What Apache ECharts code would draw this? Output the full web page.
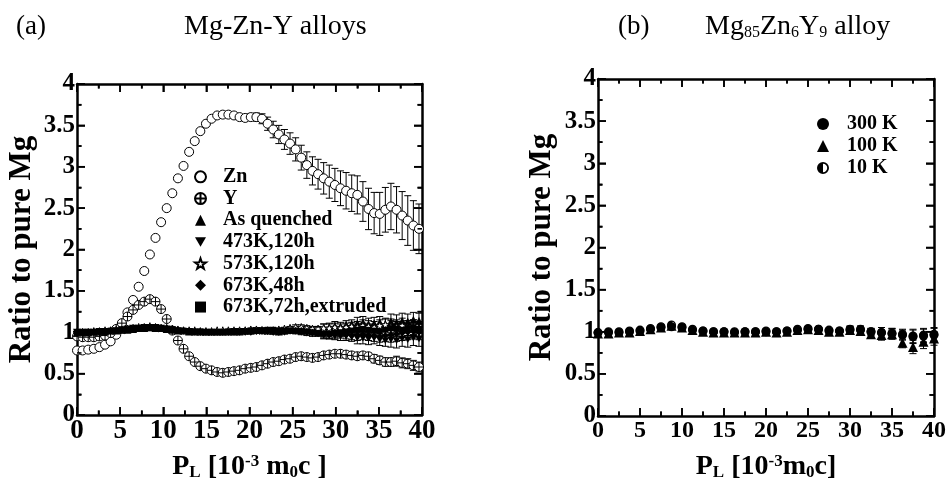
<!DOCTYPE html>
<html>
<head>
<meta charset="utf-8">
<script src="https://cdn.jsdelivr.net/npm/echarts@6/dist/echarts.min.js"></script>
<style>html,body{margin:0;padding:0;background:#fff}#c{width:949px;height:486px;background:#fff}</style>
</head>
<body>
<div id="c"></div>
<script>
// ---------- DATA ----------
// Panel (a): momentum grid, 10^-3 m0c
const xA = [0,0.65,1.3,1.95,2.6,3.25,3.9,4.55,5.2,5.85,6.5,7.15,7.8,8.45,9.1,9.75,10.4,11.05,11.7,12.35,13,13.65,14.3,14.95,15.6,16.25,16.9,17.55,18.2,18.85,19.5,20.15,20.8,21.45,22.1,22.75,23.4,24.05,24.7,25.35,26,26.65,27.3,27.95,28.6,29.25,29.9,30.55,31.2,31.85,32.5,33.15,33.8,34.45,35.1,35.75,36.4,37.05,37.7,38.35,39,39.65];
const zn = [0.78,0.78,0.79,0.80,0.82,0.85,0.89,0.97,1.10,1.24,1.39,1.55,1.74,1.94,2.14,2.33,2.50,2.68,2.86,3.01,3.18,3.31,3.43,3.52,3.58,3.62,3.63,3.63,3.62,3.60,3.59,3.60,3.60,3.58,3.52,3.45,3.39,3.33,3.28,3.21,3.11,3.02,2.95,2.91,2.86,2.82,2.78,2.74,2.71,2.68,2.66,2.58,2.49,2.44,2.43,2.48,2.52,2.48,2.41,2.35,2.29,2.25];
const znErr = [0.01,0.01,0.01,0.01,0.01,0.01,0.01,0.01,0.01,0.01,0.01,0.01,0.01,0.01,0.01,0.01,0.01,0.01,0.01,0.01,0.01,0.01,0.01,0.01,0.02,0.02,0.02,0.02,0.02,0.02,0.03,0.04,0.05,0.06,0.08,0.10,0.11,0.12,0.13,0.14,0.15,0.16,0.17,0.18,0.19,0.20,0.20,0.21,0.22,0.22,0.23,0.24,0.25,0.25,0.26,0.27,0.28,0.28,0.29,0.30,0.30,0.30];
const yEl = [0.95,0.94,0.94,0.94,0.95,0.96,0.99,1.04,1.11,1.19,1.27,1.33,1.37,1.40,1.37,1.28,1.16,1.02,0.90,0.80,0.71,0.64,0.59,0.56,0.54,0.52,0.51,0.52,0.53,0.54,0.56,0.57,0.58,0.60,0.62,0.64,0.65,0.67,0.68,0.70,0.71,0.70,0.69,0.70,0.72,0.73,0.74,0.74,0.73,0.72,0.71,0.72,0.71,0.68,0.66,0.64,0.64,0.65,0.63,0.62,0.60,0.58];
const yErr = [0.01,0.01,0.01,0.01,0.01,0.01,0.01,0.01,0.01,0.01,0.01,0.01,0.01,0.01,0.01,0.01,0.01,0.01,0.01,0.01,0.01,0.01,0.01,0.01,0.01,0.01,0.01,0.01,0.01,0.01,0.01,0.02,0.02,0.02,0.02,0.02,0.02,0.02,0.02,0.02,0.03,0.03,0.03,0.03,0.03,0.03,0.03,0.04,0.04,0.04,0.04,0.04,0.04,0.05,0.05,0.05,0.05,0.06,0.06,0.06,0.06,0.06];
const asQ = [1.00,1.00,1.00,1.01,1.01,1.01,1.02,1.02,1.03,1.03,1.04,1.05,1.05,1.06,1.05,1.05,1.04,1.03,1.02,1.02,1.01,1.01,1.01,1.01,1.01,1.01,1.01,1.01,1.01,1.01,1.02,1.02,1.03,1.03,1.02,1.02,1.01,1.02,1.03,1.04,1.04,1.03,1.02,1.04,1.05,1.06,1.08,1.07,1.09,1.10,1.11,1.12,1.10,1.11,1.12,1.10,1.13,1.12,1.14,1.13,1.15,1.14];
const t473 = [1.00,1.00,1.00,1.00,1.01,1.01,1.01,1.02,1.03,1.04,1.05,1.05,1.06,1.06,1.06,1.05,1.04,1.03,1.02,1.01,1.01,1.00,1.00,1.00,1.00,1.00,1.00,1.00,1.01,1.01,1.01,1.01,1.02,1.02,1.01,1.01,1.00,1.00,1.01,1.01,1.00,0.99,0.98,0.98,0.97,0.97,0.96,0.95,0.95,0.94,0.93,0.93,0.92,0.93,0.91,0.90,0.91,0.90,0.92,0.91,0.93,0.92];
const s573 = [1.00,1.00,1.00,1.01,1.01,1.02,1.02,1.03,1.03,1.04,1.05,1.06,1.06,1.07,1.06,1.05,1.05,1.04,1.03,1.02,1.02,1.02,1.01,1.01,1.01,1.02,1.02,1.02,1.02,1.02,1.02,1.03,1.03,1.02,1.02,1.02,1.03,1.04,1.05,1.06,1.06,1.05,1.04,1.04,1.05,1.05,1.06,1.05,1.06,1.07,1.06,1.08,1.07,1.06,1.08,1.09,1.07,1.06,1.08,1.05,1.06,1.04];
const d673 = [0.99,0.99,1.00,1.00,1.00,1.01,1.01,1.02,1.02,1.03,1.04,1.05,1.06,1.06,1.06,1.05,1.05,1.04,1.03,1.02,1.01,1.01,1.00,1.00,1.00,1.00,1.00,1.00,1.00,1.00,1.00,1.00,1.01,1.01,1.01,1.00,1.00,1.01,1.02,1.02,1.02,1.01,1.00,0.99,0.98,0.97,0.97,0.98,0.97,0.96,0.97,0.98,0.97,0.96,0.95,0.96,0.97,0.98,0.99,1.00,1.01,1.00];
const e673 = [1.00,1.00,1.00,1.00,1.01,1.01,1.02,1.02,1.03,1.03,1.04,1.04,1.05,1.05,1.05,1.04,1.04,1.03,1.02,1.02,1.01,1.01,1.01,1.00,1.00,1.00,1.00,1.01,1.01,1.01,1.01,1.02,1.02,1.02,1.03,1.03,1.02,1.02,1.02,1.02,1.01,1.01,1.00,0.99,0.98,0.98,0.99,1.00,1.01,1.02,1.03,1.04,1.03,1.02,1.01,1.03,1.05,1.04,1.03,1.05,1.06,1.04];
const errFlat = [0.01,0.01,0.01,0.01,0.01,0.01,0.01,0.01,0.01,0.01,0.01,0.01,0.01,0.01,0.01,0.01,0.01,0.01,0.01,0.01,0.01,0.01,0.01,0.01,0.01,0.01,0.01,0.01,0.01,0.01,0.01,0.02,0.02,0.02,0.02,0.02,0.02,0.02,0.02,0.03,0.03,0.03,0.03,0.03,0.05,0.05,0.05,0.05,0.05,0.05,0.07,0.07,0.07,0.07,0.07,0.07,0.09,0.09,0.09,0.09,0.09,0.09];

// Panel (b)
const xB = [0,1.25,2.5,3.75,5,6.25,7.5,8.75,10,11.25,12.5,13.75,15,16.25,17.5,18.75,20,21.25,22.5,23.75,25,26.25,27.5,28.75,30,31.25,32.5,33.75,35,36.25,37.5,38.75,40];
const k300 = [0.99,0.99,0.99,1.00,1.01,1.03,1.05,1.06,1.05,1.02,1.01,1.00,1.00,0.99,1.00,1.00,1.00,1.00,1.01,1.02,1.03,1.03,1.01,1.01,1.02,1.03,1.00,0.99,0.98,0.96,0.94,0.95,0.96];
const k100 = [0.98,0.98,0.99,0.99,1.01,1.03,1.05,1.07,1.05,1.02,1.00,0.99,0.99,0.99,0.99,0.99,1.00,0.99,1.00,1.02,1.03,1.02,1.00,1.00,1.02,1.01,0.97,0.96,0.97,0.87,0.82,0.88,0.92];
const k10 = [0.99,1.00,1.00,1.01,1.02,1.04,1.06,1.08,1.06,1.03,1.01,1.00,1.00,1.00,1.00,1.00,1.01,1.00,1.01,1.03,1.04,1.03,1.02,1.01,1.03,1.02,1.00,0.99,0.98,0.97,0.95,0.96,0.97];
const errB = [0.01,0.01,0.01,0.01,0.01,0.01,0.01,0.01,0.01,0.01,0.01,0.01,0.01,0.01,0.01,0.01,0.01,0.01,0.01,0.01,0.02,0.02,0.02,0.02,0.04,0.04,0.04,0.06,0.06,0.06,0.08,0.08,0.08];

const namesA = ['Zn','Y','As quenched','473K,120h','573K,120h','673K,48h','673K,72h,extruded'];
const namesB = ['300 K','100 K','10 K'];

// Tick positions (major at even index, minor at odd index)
const xTickVals = [0,2.5,5,7.5,10,12.5,15,17.5,20,22.5,25,27.5,30,32.5,35,37.5,40];
const yTickVals = [0,0.25,0.5,0.75,1,1.25,1.5,1.75,2,2.25,2.5,2.75,3,3.25,3.5,3.75,4];

// ---------- CHART ----------
const FONT = 'Liberation Serif, Times New Roman, serif';
const SYM = {
  cplus: 'path://M10,0 A10,10 0 1,1 -10,0 A10,10 0 1,1 10,0 Z M-10,0 L10,0 M0,-10 L0,10',
  invtri: 'path://M-10,-8 L10,-8 L0,9 Z',
  star: 'path://M0,-10 L2.35,-3.24 L9.51,-3.09 L3.8,1.24 L5.88,8.09 L0,4 L-5.88,8.09 L-3.8,1.24 L-9.51,-3.09 L-2.35,-3.24 Z',
  half: 'path://M0,-10 A10,10 0 1,1 0,10 A10,10 0 1,1 0,-10 Z M0,-7 L0,7 A7,7 0 0,0 0,-7 Z'
};
const TICK = { show: true, inside: true, length: 8, lineStyle: { color: '#000', width: 1.6 } };
const MINOR = { show: true, splitNumber: 2, length: 4.5, lineStyle: { color: '#000', width: 1.6 } };

function xAx(grid, pos, labelSize, name, gap) {
  const a = {
    gridIndex: grid, type: 'value', min: 0, max: 40, interval: 5, position: pos,
    axisLine: { show: true, onZero: false, lineStyle: { color: '#000', width: 2.5 } },
    axisTick: TICK, minorTick: MINOR,
    splitLine: { show: false }, minorSplitLine: { show: false },
    axisLabel: { show: pos === 'bottom', margin: 3, fontFamily: FONT, fontWeight: 'bold', fontSize: labelSize, color: '#000' }
  };
  if (name) {
    a.name = name; a.nameLocation = 'middle'; a.nameGap = gap;
    a.nameTextStyle = {
      fontFamily: FONT, fontWeight: 'bold', fontSize: 28, color: '#000',
      rich: {
        b: { fontFamily: FONT, fontWeight: 'bold', fontSize: 28, color: '#000' },
        s: { fontFamily: FONT, fontWeight: 'bold', fontSize: 17, color: '#000', verticalAlign: 'bottom' },
        p: { fontFamily: FONT, fontWeight: 'bold', fontSize: 17, color: '#000', verticalAlign: 'top' }
      }
    };
  }
  return a;
}
function yAx(grid, pos, name, gap) {
  const a = {
    gridIndex: grid, type: 'value', min: 0, max: 4, interval: 0.5, position: pos,
    axisLine: { show: true, onZero: false, lineStyle: { color: '#000', width: 2.5 } },
    axisTick: TICK, minorTick: MINOR,
    splitLine: { show: false }, minorSplitLine: { show: false },
    axisLabel: { show: pos === 'left', margin: 2, fontFamily: FONT, fontWeight: 'bold', fontSize: 25, color: '#000' }
  };
  if (name) {
    a.name = name; a.nameLocation = 'middle'; a.nameGap = gap; a.nameRotate = 90;
    a.nameTextStyle = { fontFamily: FONT, fontWeight: 'bold', fontSize: 31, color: '#000' };
  }
  return a;
}

// Inward tick marks drawn as thin rect symbols placed on the axes' scales
function tickScatter(ax) {
  const data = [];
  xTickVals.forEach(function (v, i) {
    const L = i % 2 === 0 ? 8 : 4.5;
    data.push({ value: [v, 0], symbolSize: [1.6, L], symbolOffset: [0, -L / 2] });
    data.push({ value: [v, 4], symbolSize: [1.6, L], symbolOffset: [0, L / 2] });
  });
  yTickVals.forEach(function (v, i) {
    const L = i % 2 === 0 ? 8 : 4.5;
    data.push({ value: [0, v], symbolSize: [L, 1.6], symbolOffset: [L / 2, 0] });
    data.push({ value: [40, v], symbolSize: [L, 1.6], symbolOffset: [-L / 2, 0] });
  });
  return { type: 'scatter', xAxisIndex: ax, yAxisIndex: ax, symbol: 'rect', silent: true, clip: false, z: 6,
    itemStyle: { color: '#000', opacity: 1 }, data: data };
}

function errRender(params, api) {
  const x = api.value(0), y = api.value(1), e = api.value(2);
  const t = api.coord([x, y + e]), b = api.coord([x, y - e]);
  const w = 3.5, st = { stroke: '#000', lineWidth: 1 };
  return { type: 'group', children: [
    { type: 'line', shape: { x1: t[0], y1: t[1], x2: b[0], y2: b[1] }, style: st },
    { type: 'line', shape: { x1: t[0] - w, y1: t[1], x2: t[0] + w, y2: t[1] }, style: st },
    { type: 'line', shape: { x1: b[0] - w, y1: b[1], x2: b[0] + w, y2: b[1] }, style: st }
  ]};
}
function errSeries(ax, xs, ys, es) {
  return { type: 'custom', xAxisIndex: ax, yAxisIndex: ax, silent: true, z: 1,
    encode: { x: 0, y: 1 }, renderItem: errRender,
    data: xs.map((x, i) => [x, ys[i], es[i]]) };
}
function pts(name, ax, xs, ys, symbol, size, fill, border) {
  return { type: 'scatter', name: name, xAxisIndex: ax, yAxisIndex: ax, symbol: symbol, symbolSize: size,
    symbolKeepAspect: true, silent: true, z: 2,
    itemStyle: { color: fill, borderColor: border || fill, borderWidth: border ? 1 : 0, opacity: 1 },
    data: xs.map((x, i) => [x, ys[i]]) };
}

const series = [
  errSeries(0, xA, zn, znErr), pts(namesA[0], 0, xA, zn, 'circle', 9, '#fff', '#000'),
  errSeries(0, xA, yEl, yErr), pts(namesA[1], 0, xA, yEl, SYM.cplus, 9, '#fff', '#000'),
  errSeries(0, xA, asQ, errFlat), pts(namesA[2], 0, xA, asQ, 'triangle', 8, '#000'),
  errSeries(0, xA, t473, errFlat), pts(namesA[3], 0, xA, t473, SYM.invtri, 8, '#000'),
  errSeries(0, xA, s573, errFlat), pts(namesA[4], 0, xA, s573, SYM.star, 8, '#fff', '#000'),
  errSeries(0, xA, d673, errFlat), pts(namesA[5], 0, xA, d673, 'diamond', 7, '#000'),
  errSeries(0, xA, e673, errFlat), pts(namesA[6], 0, xA, e673, 'rect', 6, '#000'),
  errSeries(2, xB, k300, errB), pts(namesB[0], 2, xB, k300, 'circle', 9, '#000'),
  errSeries(2, xB, k100, errB), pts(namesB[1], 2, xB, k100, 'triangle', 10, '#000'),
  errSeries(2, xB, k10, errB), pts(namesB[2], 2, xB, k10, SYM.half, 9, '#000'),
  tickScatter(0), tickScatter(2)
];

const chart = echarts.init(document.getElementById('c'), null, { renderer: 'canvas' });
chart.setOption({
  animation: false,
  title: [
    { text: '(a)', left: 16, top: 13, padding: 0, textStyle: { fontFamily: FONT, fontWeight: 'normal', fontSize: 27, color: '#000' } },
    { text: 'Mg-Zn-Y alloys', left: 184, top: 13, padding: 0, textStyle: { fontFamily: FONT, fontWeight: 'normal', fontSize: 28, color: '#000' } },
    { text: '(b)', left: 618, top: 13, padding: 0, textStyle: { fontFamily: FONT, fontWeight: 'normal', fontSize: 27, color: '#000' } },
    { text: '{m|Mg}{s|85}{m|Zn}{s|6}{m|Y}{s|9}{m| alloy}', left: 705, top: 13, padding: 0,
      textStyle: { fontFamily: FONT, fontWeight: 'normal', fontSize: 28, color: '#000',
        rich: { m: { fontFamily: FONT, fontWeight: 'normal', fontSize: 28, color: '#000' },
                s: { fontFamily: FONT, fontWeight: 'normal', fontSize: 16, color: '#000', verticalAlign: 'bottom' } } } }
  ],
  grid: [
    { left: 77, top: 84, width: 345, height: 340, containLabel: false },
    { left: 598, top: 79, width: 337, height: 343, containLabel: false }
  ],
  xAxis: [
    xAx(0, 'bottom', 27, '{b|P}{s|L}{b| [10}{p|-3}{b| m}{s|0}{b|c ]}', 38), xAx(0, 'top', 27),
    xAx(1, 'bottom', 24, '{b|P}{s|L}{b| [10}{p|-3}{b|m}{s|0}{b|c]}', 37), xAx(1, 'top', 24)
  ],
  yAxis: [
    yAx(0, 'left', 'Ratio to pure Mg', 40), yAx(0, 'right'),
    yAx(1, 'left', 'Ratio to pure Mg', 41), yAx(1, 'right')
  ],
  legend: [
    { data: namesA, orient: 'vertical', left: 194, top: 166, itemWidth: 11, itemHeight: 11, itemGap: 0,
      selectedMode: false, padding: 0,
      textStyle: { fontFamily: FONT, fontWeight: 'bold', fontSize: 20, color: '#000', lineHeight: 21.7, padding: [0, 0, 0, 12] } },
    { data: namesB, orient: 'vertical', left: 817, top: 113, itemWidth: 12, itemHeight: 12, itemGap: 0,
      selectedMode: false, padding: 0,
      textStyle: { fontFamily: FONT, fontWeight: 'bold', fontSize: 20, color: '#000', lineHeight: 22, padding: [0, 0, 0, 13] } }
  ],
  series: series
});
</script>
</body>
</html>
